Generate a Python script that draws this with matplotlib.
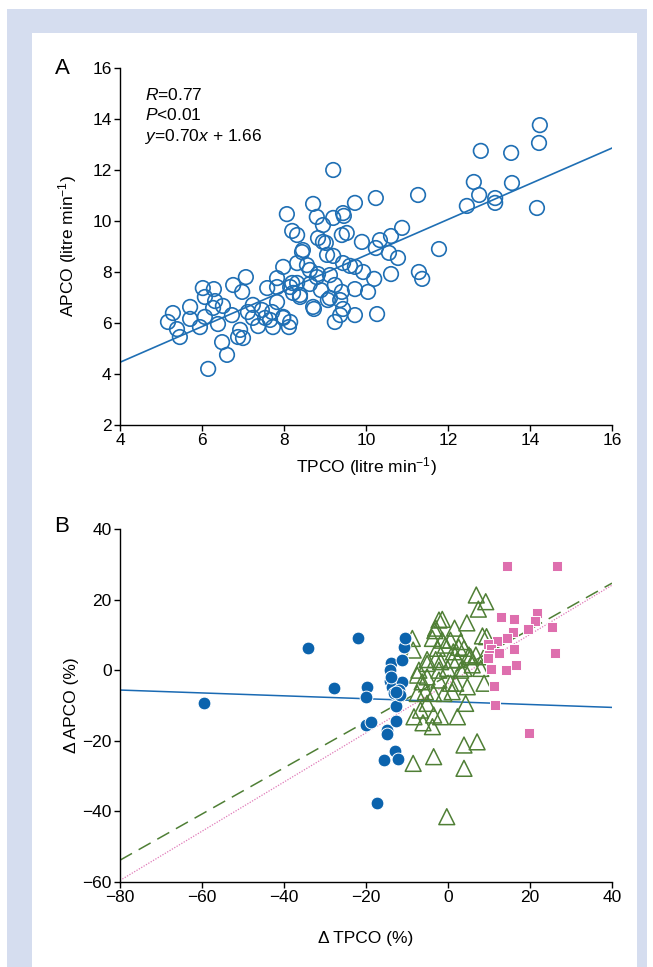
import matplotlib
matplotlib.use('Agg')
import matplotlib.pyplot as plt
from matplotlib.patches import Rectangle
import numpy as np

plt.rcParams['font.family'] = ['Liberation Sans', 'DejaVu Sans']
plt.rcParams['mathtext.fontset'] = 'custom'
plt.rcParams['mathtext.rm'] = 'Liberation Sans'
plt.rcParams['mathtext.it'] = 'Liberation Sans:italic'

# panel A: TPCO vs APCO (litre/min)
tpco = [5.17, 5.29, 5.39, 5.46, 5.71, 5.71, 5.95, 6.07, 6.02, 6.29, 6.07, 6.32, 6.51, 6.27, 6.39,
        6.15, 6.61, 6.49, 6.88, 7.0, 6.76, 7.07, 6.98, 6.73, 6.93, 7.12, 7.24, 7.24, 7.37, 7.46,
        7.59, 7.54, 7.73, 7.83, 7.83, 7.98, 7.98, 8.12, 8.15, 7.66, 8.07, 8.2, 8.32, 8.44, 8.71,
        8.8, 8.83, 8.95, 8.95, 9.05, 8.63, 8.8, 8.32, 8.32, 8.15, 8.39, 8.71, 8.73, 8.9, 9.12,
        9.37, 9.44, 9.41, 9.44, 9.73, 9.73, 9.73, 9.44, 9.37, 9.24, 9.73, 9.2, 10.24, 11.27, 9.9,
        10.34, 10.61, 10.88, 10.24, 10.56, 10.78, 10.61, 11.29, 11.37, 11.78, 10.27, 10.2, 9.93, 10.05, 9.41,
        9.07, 8.83, 8.63, 9.2, 9.02, 9.53, 9.2, 9.46, 8.46, 9.61, 8.56, 7.83, 8.2, 8.22, 9.24,
        8.39, 9.12, 7.71, 7.98, 14.24, 14.22, 12.8, 13.54, 12.63, 13.56, 12.76, 13.15, 13.15, 12.46, 14.17]
apco = [6.04, 6.39, 5.76, 5.45, 6.63, 6.16, 5.84, 6.24, 7.37, 7.33, 7.02, 6.86, 6.67, 6.59, 5.96,
        4.2, 4.75, 5.25, 5.45, 5.41, 7.49, 7.8, 7.22, 6.31, 5.73, 6.43, 6.71, 6.2, 5.88, 6.51,
        7.37, 6.2, 5.84, 6.82, 7.76, 8.2, 6.2, 5.84, 6.04, 6.12, 10.27, 9.61, 9.45, 8.78, 10.67,
        10.16, 9.33, 9.84, 9.18, 8.67, 8.08, 7.8, 8.35, 7.57, 7.41, 7.1, 6.63, 6.55, 7.29, 7.88,
        6.9, 8.35, 9.45, 10.31, 10.71, 8.2, 7.33, 6.55, 6.31, 6.04, 6.31, 12.0, 10.9, 11.02, 9.18,
        9.25, 9.41, 9.73, 8.94, 8.75, 8.55, 7.92, 8.0, 7.73, 8.9, 6.35, 7.73, 8.0, 7.22, 7.22,
        6.9, 7.92, 7.53, 8.63, 9.14, 9.53, 10.12, 10.2, 8.86, 8.24, 8.27, 7.41, 7.57, 7.18, 7.49,
        7.02, 6.98, 6.43, 6.24, 13.76, 13.06, 12.75, 12.67, 11.53, 11.49, 11.02, 10.9, 10.71, 10.59, 10.51]
fit_a = (0.70, 1.66)
stats_a = ['$\\mathit{R}$=0.77', '$\\mathit{P}$<0.01', '$\\mathit{y}$=0.70$\\mathit{x}$ + 1.66']

# panel B: percent changes, three groups
blue_dx = [-59.4, -34.1, -22.0, -27.9, -19.7, -20.0, -20.1, -18.9, -17.3, -15.7, -15.0, -14.8, -14.0, -14.2,
           -14.2, -13.6, -13.2, -12.6, -12.6, -13.0, -12.2, -11.2, -10.8, -10.6, -11.2, -12.0, -11.6, -12.8, -13.8]
blue_dy = [-9.2, 6.3, 9.1, -5.1, -4.7, -7.5, -15.5, -14.6, -37.6, -25.3, -17.0, -18.2, 2.0, 0.0,
           -3.1, -4.7, -6.6, -10.1, -14.4, -22.9, -25.1, 2.9, 6.7, 9.0, -3.4, -5.6, -7.0, -6.2, -1.8]
green_dx = [6.9, 9.2, 7.4, -1.4, -2.2, 4.6, -3.2, 1.6, -8.7, -8.5, -3.8, 0.6, -0.6, 3.9, 8.4, 9.4, 6.8, 8.8,
            -2.6, 1.3, 5.1, -5.1, -1.8, 1.0, 3.9, 5.9, 8.0, -7.5, -5.1, -2.2, 0.6, 4.7, 8.8, -7.5, -5.5,
            -3.5, -1.0, 1.0, 4.3, -5.1, -6.7, -8.3, -3.5, -1.8, -6.1, -3.8, 2.3, 3.9, 7.1, -3.5, -8.5,
            3.9, -0.3, -3.0, -1.4, 3.1, -5.1, -3.0, 2.3, 5.5, -7.1, -2.2, -0.1, 3.1, -6.3, 1.9, 2.6]
green_dy = [21.3, 19.4, 17.3, 14.4, 14.2, 13.4, 11.2, 11.9, 9.0, 5.7, 9.0, 8.5, 7.1, 6.2, 9.7, 9.5, 4.3, 3.8,
            6.2, 5.2, 4.3, 1.9, 2.4, 2.9, 0.5, 1.5, 0.5, -1.4, -1.9, -2.8, -3.7, -4.7, -3.7, -6.6, -6.1,
            -6.6, -6.6, -6.1, -9.4, -9.4, -11.3, -13.2, -12.7, -13.2, -14.9, -16.0, -13.2, -21.2, -20.3, -24.5, -26.4,
            -27.8, -41.5, 11.9, 8.5, 8.1, 3.0, 3.0, 3.0, 3.8, 0.0, 0.0, 0.5, 0.0, -3.3, -3.7, 6.5]
pink_dx = [14.3, 26.6, 13.0, 16.1, 21.6, 21.1, 25.4, 19.4, 15.9, 14.3, 11.9, 9.7, 10.4, 12.4, 10.0, 9.8,
           16.1, 26.2, 16.6, 10.6, 14.1, 11.2, 11.4, 19.8]
pink_dy = [29.5, 29.5, 15.0, 14.6, 16.1, 14.0, 12.3, 11.6, 10.8, 9.1, 8.2, 7.4, 5.9, 4.8, 4.3, 3.4,
           5.9, 5.0, 1.6, 0.2, 0.0, -4.5, -9.8, -17.7]
fit_blue = (-0.041, -8.9)
fit_green = (0.654, -1.5)
fit_pink = (0.697, -3.8)

W, H = 653, 967
fig = plt.figure(figsize=(W / 100, H / 100), dpi=100)
fig.patches.append(Rectangle((7 / W, 0), 640 / W, 1 - 9 / H, transform=fig.transFigure,
                             facecolor='#d5ddef', edgecolor='none', zorder=-10))
fig.patches.append(Rectangle((32 / W, 0), 605 / W, 1 - 33 / H, transform=fig.transFigure,
                             facecolor='white', edgecolor='none', zorder=-9))

FS = 12.5


def style(ax):
    for s in ['top', 'right']:
        ax.spines[s].set_visible(False)
    for s in ['left', 'bottom']:
        ax.spines[s].set_linewidth(1.0)
    ax.tick_params(direction='out', length=4, width=1.0, labelsize=FS, pad=2)
    ax.set_facecolor('none')


left, width = 120 / W, 492 / W
axA = fig.add_axes([left, 1 - 425 / H, width, 357 / H])
style(axA)
xs = np.array([4, 16])
axA.plot(xs, fit_a[0] * xs + fit_a[1], color='#1f6fb4', lw=1.2, zorder=1)
axA.scatter(tpco, apco, s=110, facecolors='none', edgecolors='#1f6fb4', linewidths=1.2, zorder=2)
axA.set_xlim(4, 16)
axA.set_ylim(2, 16)
axA.set_xticks(range(4, 17, 2))
axA.set_yticks(range(2, 17, 2))
axA.set_xlabel('TPCO (litre min$^{-1}$)', fontsize=FS)
axA.set_ylabel('APCO (litre min$^{-1}$)', fontsize=FS)
axA.xaxis.set_label_coords(0.5, -0.085)
axA.yaxis.set_label_coords(-0.083, 0.5)
for i, t in enumerate(stats_a):
    axA.text(0.05, 0.925 - i * 0.058, t, transform=axA.transAxes, fontsize=FS, va='center', ha='left')
fig.text(62 / W, 1 - 68 / H, 'A', fontsize=16, ha='center', va='center')

axB = fig.add_axes([left, 1 - 882 / H, width, 353 / H])
style(axB)
xb = np.array([-80, 40])
axB.plot(xb, fit_blue[0] * xb + fit_blue[1], color='#1a6ab3', lw=1.1, zorder=1)
axB.plot(xb, fit_green[0] * xb + fit_green[1], color='#4f7f35', lw=1.1, dashes=(9, 5), zorder=1)
axB.plot(xb, fit_pink[0] * xb + fit_pink[1], color='#e07ab8', lw=0.9, dashes=(1, 1.2), zorder=1)
axB.scatter(green_dx, green_dy, s=130, marker='^', facecolors='none', edgecolors='#4f7f35',
            linewidths=1.1, zorder=2)
axB.scatter(blue_dx, blue_dy, s=85, marker='o', facecolors='#0b63ad', edgecolors='white',
            linewidths=0.7, zorder=3)
axB.scatter(pink_dx, pink_dy, s=62, marker='s', facecolors='#de6fae', edgecolors='white',
            linewidths=0.7, zorder=3)
axB.set_xlim(-80, 40)
axB.set_ylim(-60, 40)
axB.set_xticks(range(-80, 41, 20))
axB.set_yticks(range(-60, 41, 20))
axB.set_xlabel('\u0394 TPCO (%)', fontsize=FS)
axB.set_ylabel('\u0394 APCO (%)', fontsize=FS)
axB.xaxis.set_label_coords(0.5, -0.14)
axB.yaxis.set_label_coords(-0.083, 0.5)
fig.text(62 / W, 1 - 527 / H, 'B', fontsize=16, ha='center', va='center')

fig.savefig('out.png', dpi=100)
